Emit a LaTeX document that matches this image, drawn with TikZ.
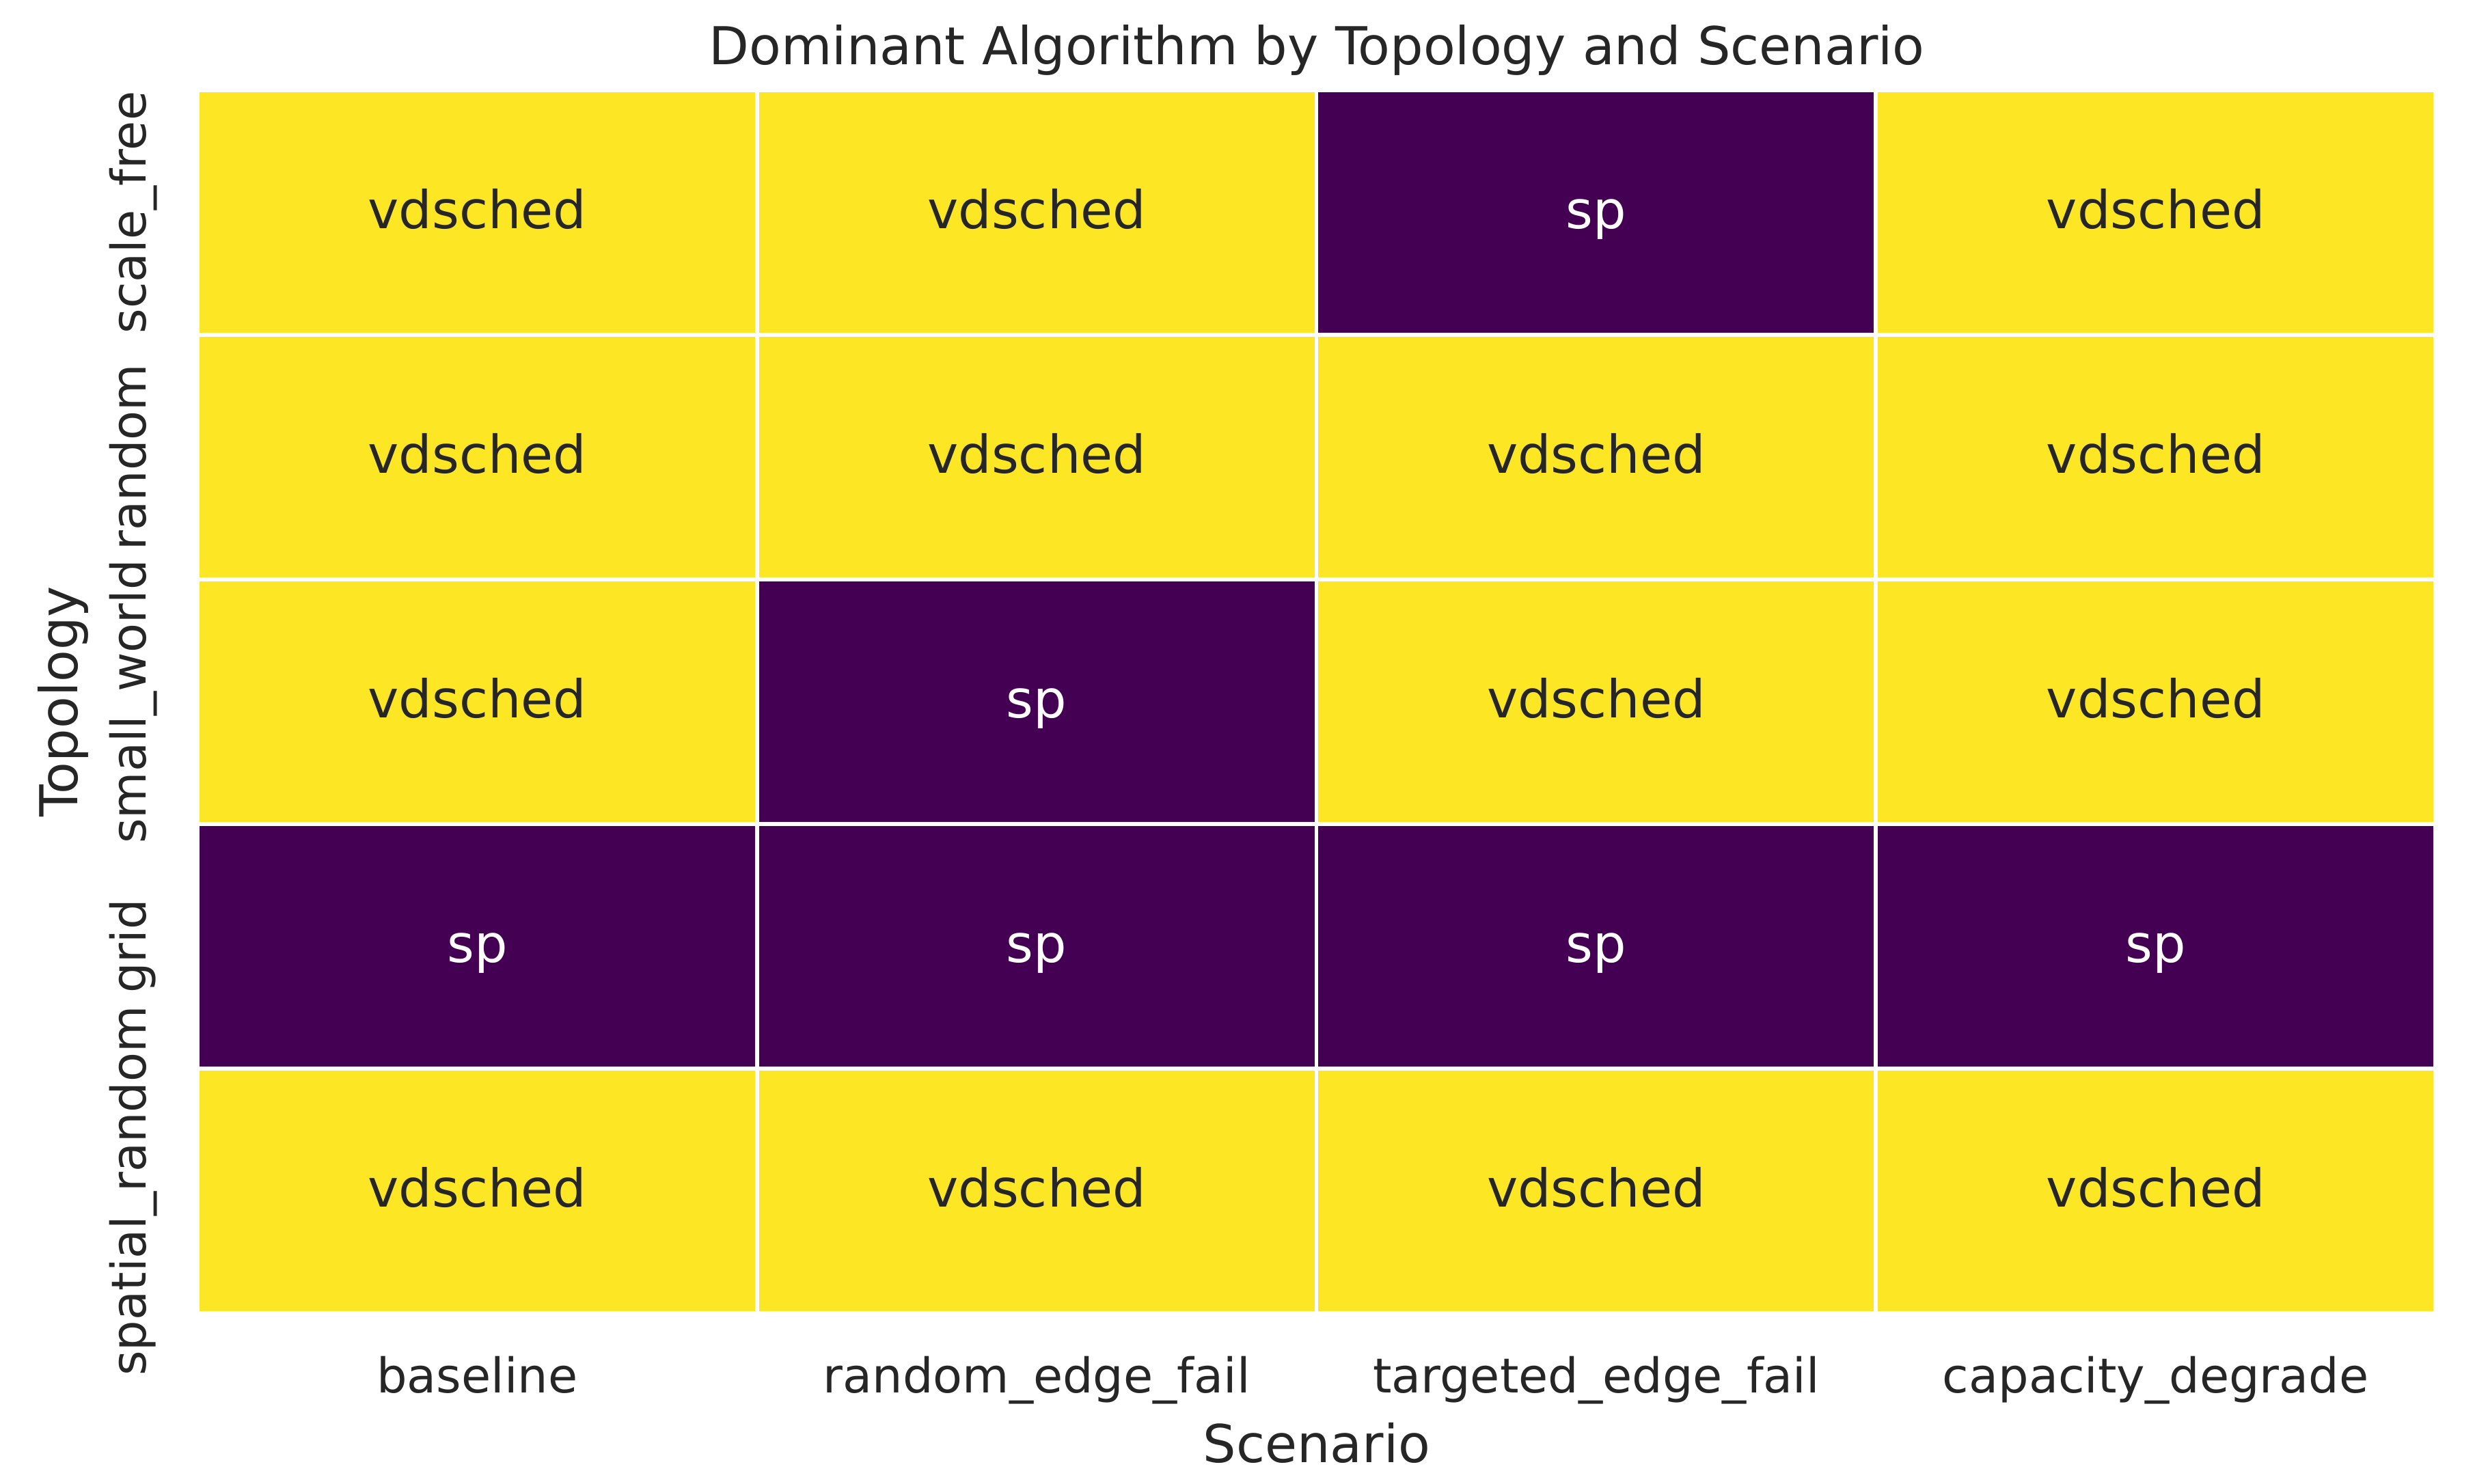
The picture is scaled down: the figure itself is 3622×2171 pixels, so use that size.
\documentclass[tikz,border=0pt]{standalone}
\usepackage{fontspec}
\setmainfont{DejaVu Sans}
\definecolor{vyel}{HTML}{FDE725}
\definecolor{vpur}{HTML}{440154}
\definecolor{txt}{HTML}{262626}
\def\labY{vdsched}
\def\labP{sp}
\begin{document}
\begin{tikzpicture}[x=0.24pt,y=-0.24pt,
  cell/.style={draw=white,line width=1.4pt,minimum width=196.5pt,minimum height=85.92pt,inner sep=0pt,outer sep=0pt},
  Ycell/.style={cell,fill=vyel},
  Pcell/.style={cell,fill=vpur},
  big/.style={font=\fontsize{18.35}{22}\selectfont,inner sep=0pt,anchor=base},
  Ylab/.style={big,text=txt},
  Plab/.style={big,text=white},
  ticklab/.style={font=\fontsize{16.85}{20}\selectfont,inner sep=0pt,anchor=base,text=txt},
  axlab/.style={big,text=txt}]
\useasboundingbox (0,0) rectangle (3622,2171);
\fill[white] (0,0) rectangle (3622,2171);
% cells
\foreach \v [count=\i from 0] in {Y,Y,P,Y, Y,Y,Y,Y, Y,P,Y,Y, P,P,P,P, Y,Y,Y,Y}{
  \pgfmathtruncatemacro\rr{int(\i/4)}
  \pgfmathtruncatemacro\cc{mod(\i,4)}
  \pgfmathsetmacro\cx{289+818.75*(\cc+0.5)}
  \pgfmathsetmacro\cy{132+358*(\rr+0.5)}
  \node[\v cell] (cell\rr\cc) at (\cx,\cy) {};
  \node[\v lab] (lab\rr\cc) at (\cx,\cy+23) {\csname lab\v\endcsname};
}
% title
\node[axlab] (title) at (1927,94) {Dominant Algorithm by Topology and Scenario};
% x tick labels
\foreach \t [count=\i from 0] in {baseline,random\_edge\_fail,targeted\_edge\_fail,capacity\_degrade}{
  \pgfmathsetmacro\cx{289+818.75*(\i+0.5)}
  \node[ticklab] (xt\i) at (\cx,2038) {\t};
}
% y tick labels
\foreach \t [count=\i from 0] in {scale\_free,random,small\_world,grid,spatial\_random}{
  \pgfmathsetmacro\cy{132+358*(\i+0.5)}
  \node[ticklab,rotate=90] (yt\i) at (213,\cy) {\t};
}
% axis labels
\node[axlab] (xlabel) at (1927,2140) {Scenario};
\node[axlab,rotate=90] (ylabel) at (113,1027) {Topology};
\end{tikzpicture}
\end{document}
